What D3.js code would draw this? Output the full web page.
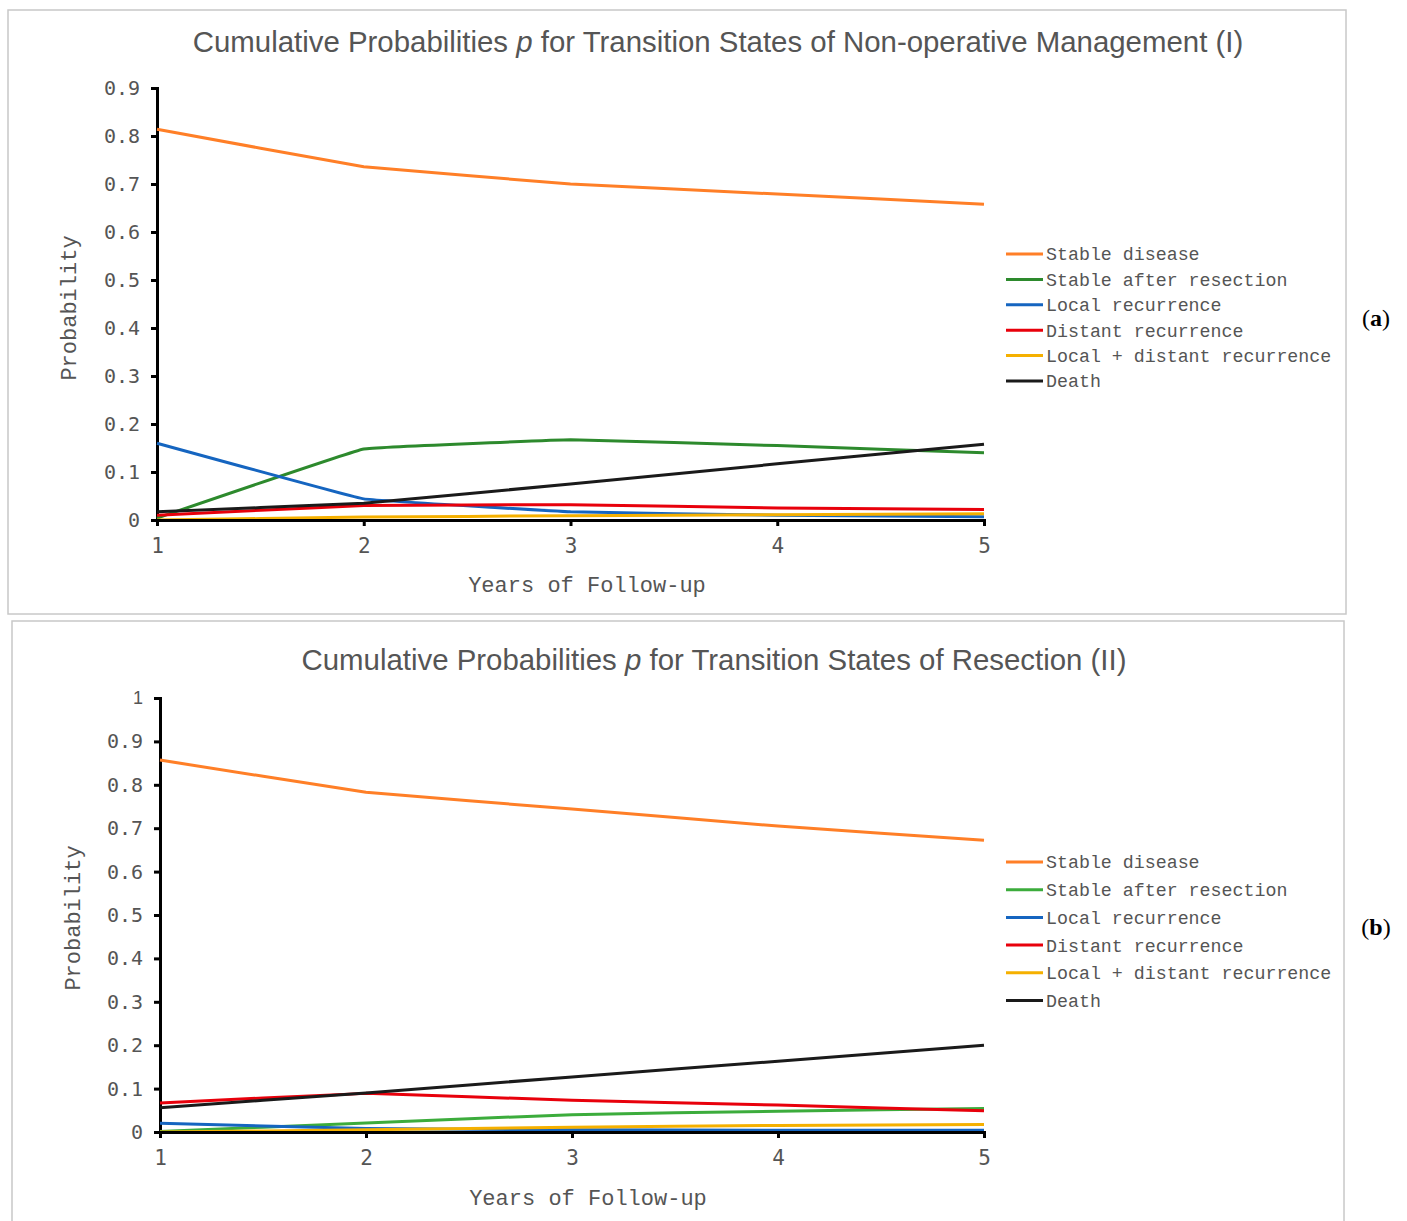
<!DOCTYPE html>
<html>
<head>
<meta charset="utf-8">
<script src="https://cdn.jsdelivr.net/npm/d3@7"></script>
<style>
  body { margin: 0; background: #fff; }
  svg { display: block; }
</style>
</head>
<body>
<div id="viz"></div>
<script>
// data
const years = [1, 2, 3, 4, 5]
const seriesNames = ["Stable disease", "Stable after resection", "Local recurrence",
    "Distant recurrence", "Local + distant recurrence", "Death"]

// panel (a) - non-operative management
const stableA = [0.814, 0.736, 0.700, 0.679, 0.658]
const resectedA = [0.004, 0.148, 0.167, 0.155, 0.140]
const localA = [0.160, 0.044, 0.017, 0.010, 0.007]
const distantA = [0.010, 0.030, 0.032, 0.025, 0.022]
const bothA = [0.000, 0.006, 0.009, 0.011, 0.013]
const deathA = [0.017, 0.035, 0.075, 0.117, 0.158]
const yTicksA = [0, 0.1, 0.2, 0.3, 0.4, 0.5, 0.6, 0.7, 0.8, 0.9]

// panel (b) - resection
const stableB = [0.857, 0.783, 0.744, 0.705, 0.672]
const resectedB = [0.001, 0.021, 0.040, 0.048, 0.054]
const localB = [0.020, 0.008, 0.005, 0.004, 0.004]
const distantB = [0.067, 0.089, 0.073, 0.062, 0.049]
const bothB = [0.000, 0.005, 0.011, 0.015, 0.017]
const deathB = [0.056, 0.090, 0.127, 0.163, 0.200]
const yTicksB = [0, 0.1, 0.2, 0.3, 0.4, 0.5, 0.6, 0.7, 0.8, 0.9, 1]

const svg = d3.select('#viz')
    .append('svg')
    .attr('width', 1407)
    .attr('height', 1221)

const mono = "'Liberation Mono', 'DejaVu Sans Mono', monospace"
const tickFont = "'DejaVu Sans Mono', 'Liberation Mono', monospace"
const grey = "#555"

function drawPanel(p) {
    let g = svg.append('g')

    // frame
    g.append('rect')
        .attr('x', p.box[0]).attr('y', p.box[1])
        .attr('width', p.box[2]).attr('height', p.box[3])
        .attr('fill', 'none')
        .attr('stroke', '#c8c8c8')
        .attr('stroke-width', 1.5)

    // title
    let title = g.append('text')
        .attr('x', p.titleX)
        .attr('y', p.titleY)
        .attr('text-anchor', 'middle')
        .attr('fill', grey)
        .style('font-family', "'Liberation Sans', Arial, sans-serif")
        .style('font-size', '29.4px')
    title.append('tspan').text('Cumulative Probabilities ')
    title.append('tspan').style('font-style', 'italic').text('p')
    title.append('tspan').text(' for Transition States of ' + p.title)

    let xScale = d3.scaleLinear().domain([1, 5]).range([p.x0, p.x1])
    let yScale = d3.scaleLinear().domain([0, p.yMax]).range([p.y0, p.y1])

    // y axis
    let yAxis = g.append('g')
        .attr('transform', `translate(${p.x0},0)`)
        .call(d3.axisLeft(yScale).tickValues(p.yTicks).tickSize(6).tickPadding(11)
            .tickFormat(d => d === 0 ? '0' : (d === 1 ? '1' : d3.format('.1f')(d))))
    yAxis.select('.domain').attr('stroke', '#000').attr('stroke-width', 3)
    yAxis.selectAll('.tick line').attr('stroke', '#000').attr('stroke-width', 3)
    yAxis.selectAll('.tick text')
        .attr('fill', grey)
        .style('font-family', tickFont)
        .style('font-size', '20px')
    if (p.smallTop) {
        yAxis.selectAll('.tick text').filter(d => d === 1)
            .style('font-family', "'Liberation Sans', Arial, sans-serif")
            .style('font-size', '18px')
    }

    // lines
    let line = d3.line()
        .x((d, i) => xScale(years[i]))
        .y(d => yScale(d))
        .curve(d3.curveCardinal.tension(0.85))

    g.append('g')
        .selectAll('path')
        .data(p.series)
        .join('path')
        .attr('fill', 'none')
        .attr('stroke', (d, i) => p.colors[i])
        .attr('stroke-width', 3)
        .attr('stroke-linejoin', 'round')
        .attr('d', d => line(d))

    // x axis (drawn after lines so it sits on top)
    let xAxis = g.append('g')
        .attr('transform', `translate(0,${p.y0})`)
        .call(d3.axisBottom(xScale).tickValues(years).tickSize(6).tickPadding(12)
            .tickFormat(d3.format('d')))
    xAxis.select('.domain').attr('stroke', '#000').attr('stroke-width', 3)
    xAxis.selectAll('.tick line').attr('stroke', '#000').attr('stroke-width', 3)
    xAxis.selectAll('.tick text')
        .attr('fill', grey)
        .style('font-family', tickFont)
        .style('font-size', '21px')

    // axis titles
    g.append('text')
        .attr('x', p.xTitleX)
        .attr('y', p.xTitleY)
        .attr('text-anchor', 'middle')
        .attr('fill', grey)
        .style('font-family', mono)
        .style('font-size', '22px')
        .text('Years of Follow-up')
    g.append('text')
        .attr('transform', `translate(${p.yTitleX},${p.yTitleY}) rotate(-90)`)
        .attr('text-anchor', 'middle')
        .attr('fill', grey)
        .style('font-family', mono)
        .style('font-size', '22px')
        .text('Probability')

    // legend
    let legend = g.append('g')
        .selectAll('g')
        .data(seriesNames)
        .join('g')
        .attr('transform', (d, i) => `translate(1006,${p.legY + i * p.legStep})`)
    legend.append('line')
        .attr('x1', 0).attr('x2', 37)
        .attr('stroke', (d, i) => p.colors[i])
        .attr('stroke-width', 3)
    legend.append('text')
        .attr('x', 40)
        .attr('dy', '0.35em')
        .attr('fill', grey)
        .style('font-family', mono)
        .style('font-size', '18.3px')
        .text(d => d)

    // panel letter
    let lab = g.append('text')
        .attr('x', 1376)
        .attr('y', p.labY)
        .attr('text-anchor', 'middle')
        .attr('fill', '#000')
        .style('font-family', "'Liberation Serif', 'DejaVu Serif', serif")
        .style('font-size', '24px')
    lab.append('tspan').text('(')
    lab.append('tspan').style('font-weight', 'bold').text(p.letter)
    lab.append('tspan').text(')')
}

drawPanel({
    box: [8, 10, 1338, 604],
    title: 'Non-operative Management (I)',
    titleX: 718, titleY: 52,
    x0: 157, x1: 984, y0: 520, y1: 88, yMax: 0.9,
    yTicks: yTicksA,
    series: [stableA, resectedA, localA, distantA, bothA, deathA],
    colors: ['#ff7f27', '#2d8a2d', '#1565c0', '#e8000b', '#f5b000', '#1a1a1a'],
    xTitleX: 587, xTitleY: 592, yTitleX: 76, yTitleY: 308,
    legY: 254, legStep: 25.4,
    labY: 326, letter: 'a'
})

drawPanel({
    box: [12, 621, 1332, 620],
    title: 'Resection (II)',
    titleX: 714, titleY: 670,
    x0: 160, x1: 984, y0: 1132, y1: 698, yMax: 1,
    yTicks: yTicksB,
    smallTop: true,
    series: [stableB, resectedB, localB, distantB, bothB, deathB],
    colors: ['#ff7f27', '#3cac3c', '#1565c0', '#e8000b', '#f5b000', '#1a1a1a'],
    xTitleX: 588, xTitleY: 1205, yTitleX: 80, yTitleY: 918,
    legY: 862, legStep: 27.7,
    labY: 935, letter: 'b'
})
</script>
</body>
</html>
